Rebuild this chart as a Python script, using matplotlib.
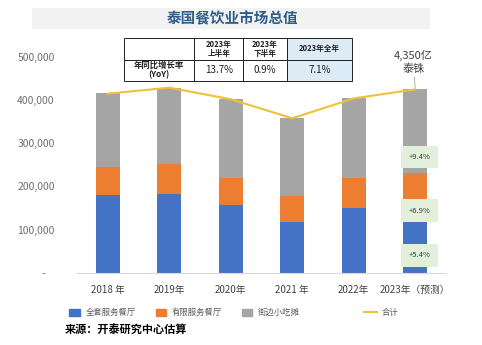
import matplotlib
matplotlib.use("Agg")
import matplotlib.pyplot as plt
from matplotlib.patches import Rectangle, Patch
from matplotlib.lines import Line2D
from matplotlib.ticker import FuncFormatter

plt.rcParams['font.family'] = ['Noto Sans CJK SC', 'DejaVu Sans']

# data (unit: million baht)
years = ["2018 年", "2019年", "2020年", "2021 年", "2022年", "2023年（预测）"]
full_service = [179000, 183000, 156000, 117000, 150000, 158000]
limited_service = [67000, 70000, 63000, 61000, 69000, 74000]
street_food = [171000, 176000, 183000, 180000, 185000, 193000]
total = [415000, 429000, 402000, 358000, 404000, 425000]
growth_labels = ["+9.4%", "+6.9%", "+5.4%"]
growth_y = [268000, 144000, 40000]

tbl_cols = ["", "2023年\n上半年", "2023年\n下半年", "2023年全年"]
tbl_row = ["年同比增长率\n(YoY)", "13.7%", "0.9%", "7.1%"]

c_blue = "#4472C4"
c_orange = "#ED7D31"
c_gray = "#A5A5A5"
c_gold = "#EDC236"

W, H = 482, 345
fig = plt.figure(figsize=(W / 100, H / 100), dpi=100)

def fx(px):
    return px / W

def fy(py):
    return 1 - py / H

# title bar
fig.patches.append(Rectangle((fx(32), fy(29)), fx(398), 21 / H, transform=fig.transFigure,
                             facecolor="#F2F2F2", edgecolor="none", zorder=0))
fig.text(fx(232), fy(18.5), "泰国餐饮业市场总值", ha="center", va="center",
         fontsize=10.5, fontweight="bold", color="#2E5C8A")

ax = fig.add_axes([fx(77), fy(272.7), fx(369), (272.7 - 57) / H])
x = list(range(len(years)))
bw = 0.39
b1 = [a + b for a, b in zip(full_service, limited_service)]
ax.bar(x, full_service, bw, color=c_blue, zorder=2)
ax.bar(x, limited_service, bw, bottom=full_service, color=c_orange, zorder=2)
ax.bar(x, street_food, bw, bottom=b1, color=c_gray, zorder=2)
ax.plot(x, total, color=c_gold, lw=1.5, zorder=3)

ax.set_xlim(-0.5, 5.5)
ax.set_ylim(0, 500000)
ax.set_yticks(range(0, 500001, 100000))
ax.yaxis.set_major_formatter(FuncFormatter(lambda v, p: "-    " if v == 0 else f"{int(v):,}"))
ax.set_xticks(x)
ax.set_xticklabels(years)
ax.tick_params(axis="y", length=0, pad=16, labelsize=7.5, labelcolor="#6E6E6E")
ax.tick_params(axis="x", length=0, pad=9, labelsize=7, labelcolor="#404040")
for s in ["top", "right", "left"]:
    ax.spines[s].set_visible(False)
ax.spines["bottom"].set_color("#D9D9D9")
ax.spines["bottom"].set_linewidth(0.8)

for lab, gy in zip(growth_labels, growth_y):
    ax.text(5.07, gy, lab, ha="center", va="center", fontsize=5.5, color="#404040", zorder=4,
            bbox=dict(boxstyle="square,pad=0.95", facecolor="#E2EFDA", edgecolor="none"))

ax.annotate("4,350亿\n泰铢", xy=(5.0, total[-1]), xytext=(4.97, 488000),
            ha="center", va="center", fontsize=8, color="#404040", linespacing=1.3,
            arrowprops=dict(arrowstyle="-", color="#A0A0A0", lw=0.6, shrinkA=12, shrinkB=1))

# table
tax = fig.add_axes([fx(124), fy(81), fx(228), (81 - 38.3) / H])
tax.axis("off")
widths = [70, 49, 43.5, 65]
sw = sum(widths)
tb = tax.table(cellText=[tbl_row], colLabels=tbl_cols, colWidths=[w / sw for w in widths],
               bbox=[0, 0, 1, 1], cellLoc="center")
tb.auto_set_font_size(False)
for (r, c), cell in tb.get_celld().items():
    cell.set_edgecolor("#202020")
    cell.set_linewidth(0.7)
    t = cell.get_text()
    t.set_color("#202020")
    if r == 0:
        t.set_fontsize(5.5)
        t.set_fontweight("bold")
        t.set_linespacing(1.1)
    elif c == 0:
        t.set_fontsize(6)
        t.set_fontweight("bold")
        t.set_linespacing(1.1)
    else:
        t.set_fontsize(7)
    if c == 3:
        cell.set_facecolor("#DDEBF7")

# legends
h_bars = [Patch(color=c_blue), Patch(color=c_orange), Patch(color=c_gray)]
fig.legend(h_bars, ["全套服务餐厅", "有限服务餐厅", "街边小吃摊"], ncol=3,
           loc="center left", bbox_to_anchor=(fx(62), fy(312.5)), frameon=False,
           fontsize=6, labelcolor="#595959", handlelength=1.3, handleheight=0.9,
           handletextpad=0.6, columnspacing=2.4)
fig.legend([Line2D([], [], color=c_gold, lw=1.5)], ["合计"], loc="center left",
           bbox_to_anchor=(fx(356), fy(312.5)), frameon=False, fontsize=6,
           labelcolor="#595959", handlelength=1.6, handletextpad=0.6)

fig.text(fx(65), fy(330), "来源：开泰研究中心估算", ha="left", va="center",
         fontsize=8, fontweight="bold", color="#000000")

fig.savefig("out.png", dpi=100)
